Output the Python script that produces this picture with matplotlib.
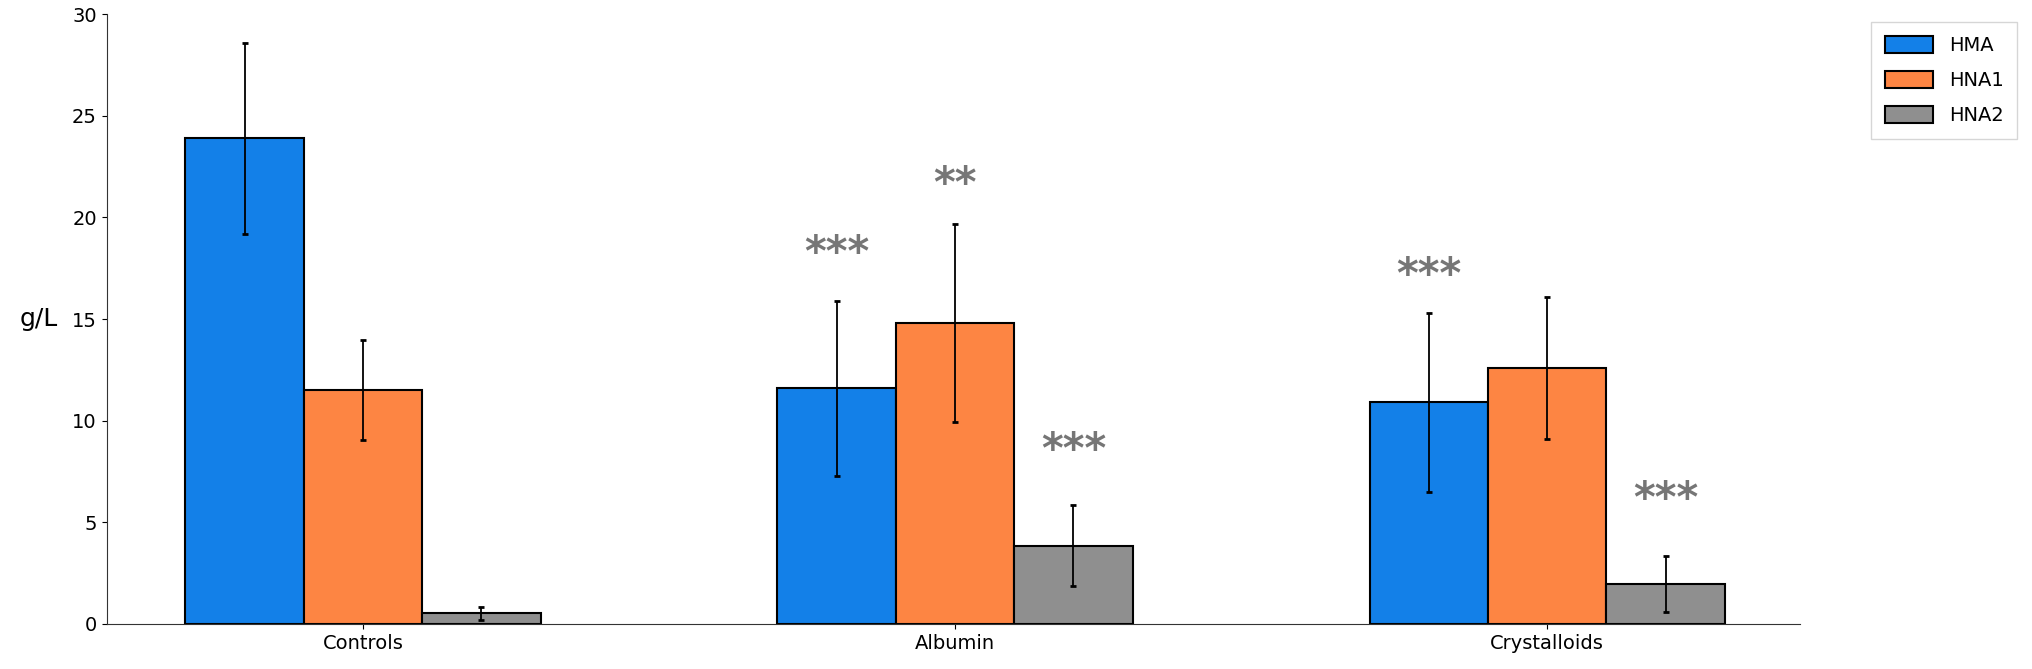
import numpy as np
import matplotlib
matplotlib.use('Agg')
import matplotlib.pyplot as plt
from matplotlib.transforms import offset_copy

categories = ['Controls', 'Albumin', 'Crystalloids']
series = ['HMA', 'HNA1', 'HNA2']

hma = [23.9, 11.6, 10.9]
hma_err = [4.7, 4.3, 4.4]
hna1 = [11.5, 14.8, 12.6]
hna1_err = [2.45, 4.85, 3.5]
hna2 = [0.52, 3.85, 1.95]
hna2_err = [0.3, 2.0, 1.37]

# significance marks: (category index, series index, label, y position)
stars = [(1, 0, '***', 18.6), (1, 1, '**', 22.0), (1, 2, '***', 8.9),
         (2, 0, '***', 17.5), (2, 2, '***', 6.5)]

colors = ['#1380E8', '#FD8543', '#8F8F8F']

fig = plt.figure(figsize=(20.32, 6.69), dpi=100)
ax = fig.add_axes([0.0525, 0.0673, 0.8333, 0.9117])

x = np.arange(len(categories))
w = 0.2
values = [hma, hna1, hna2]
errors = [hma_err, hna1_err, hna2_err]
for i, (vals, errs) in enumerate(zip(values, errors)):
    ax.bar(x + (i - 1) * w, vals, w, color=colors[i], edgecolor='black',
           linewidth=1.5, label=series[i],
           yerr=errs, error_kw=dict(ecolor='black', elinewidth=1.3, capsize=2, capthick=2))

# asterisk glyph sits high in its box, nudge it down a bit
star_tr = offset_copy(ax.transData, fig=fig, x=0, y=-8, units='dots')
for c, s, lab, y in stars:
    ax.text(x[c] + (s - 1) * w, y, lab, ha='center', va='center',
            fontsize=30, fontweight='bold', color='#767676', transform=star_tr)

ax.set_xlim(-0.433, 2.427)
ax.set_ylim(0, 30)
ax.set_xticks(x)
ax.set_xticklabels(categories, fontsize=14)
ax.set_yticks(range(0, 31, 5))
ax.tick_params(axis='y', labelsize=14)
ax.set_ylabel('g/L', rotation=0, fontsize=18, labelpad=24, va='center')
ax.spines['top'].set_visible(False)
ax.spines['right'].set_visible(False)
for sp in ['left', 'bottom']:
    ax.spines[sp].set_color('#333333')

fig.legend(loc='upper right', bbox_to_anchor=(0.9975, 0.981), fontsize=14,
           handlelength=2.5, handleheight=1.0, labelspacing=0.8, borderpad=0.7,
           frameon=True, edgecolor='#cccccc', fancybox=False)

fig.savefig('out.png', dpi=100)
